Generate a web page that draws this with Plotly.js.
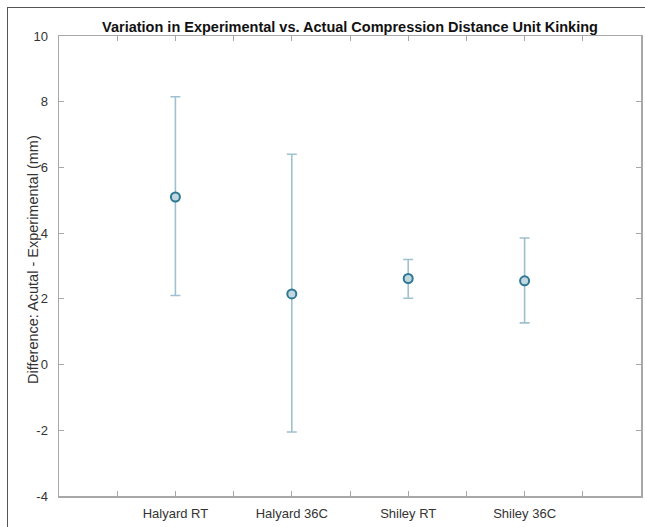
<!DOCTYPE html>
<html>
<head>
<meta charset="utf-8">
<script src="https://cdn.plot.ly/plotly-3.0.1.min.js"></script>
<style>
  html, body { margin: 0; padding: 0; background: #fff; }
  #wrap { position: relative; width: 645px; height: 527px; }
  #chart { width: 645px; height: 527px; }
  #frame { position: absolute; left: 7px; top: 7px; right: 0; bottom: 0;
           border-left: 1.5px solid #555; border-top: 1.5px solid #555; pointer-events: none; }
</style>
</head>
<body>
<div id="wrap">
  <div id="chart"></div>
  <div id="frame"></div>
</div>
<script>
// Data
const categories = ["Halyard RT", "Halyard 36C", "Shiley RT", "Shiley 36C"];
const positions = [1, 2, 3, 4];
const meanDiff = [5.1, 2.15, 2.62, 2.55];
const upperVal = [8.15, 6.4, 3.2, 3.85];
const lowerVal = [2.1, -2.05, 2.02, 1.27];
const xTickVals = [0.5, 1, 1.5, 2, 2.5, 3, 3.5, 4, 4.5];
const yTickVals = [-4, -2, 0, 2, 4, 6, 8, 10];
const yLabel = "Difference: Acutal - Experimental (mm)";
const chartTitle = "Variation in Experimental vs. Actual Compression Distance Unit Kinking";

const errPlus = meanDiff.map((m, i) => upperVal[i] - m);
const errMinus = meanDiff.map((m, i) => m - lowerVal[i]);
const xTickText = xTickVals.map(v => {
  const idx = positions.indexOf(v);
  return idx >= 0 ? categories[idx] : "";
});

const FONT = "Liberation Sans, Arial, sans-serif";

const trace = {
  type: "scatter",
  mode: "markers",
  x: positions,
  y: meanDiff,
  marker: {
    symbol: "circle",
    size: 9,
    color: "#c2d8e1",
    line: { color: "#2f7893", width: 2 }
  },
  error_y: {
    type: "data",
    symmetric: false,
    array: errPlus,
    arrayminus: errMinus,
    color: "#9fc0ce",
    thickness: 1.6,
    width: 5
  },
  hoverinfo: "skip"
};

const axisCommon = {
  showgrid: false,
  zeroline: false,
  showline: true,
  linecolor: "#a8a8a8",
  linewidth: 1.5,
  mirror: "ticks",
  ticks: "inside",
  ticklen: 5,
  tickwidth: 1,
  tickcolor: "#a8a8a8",
  tickfont: { family: FONT, size: 13, color: "#333" }
};

const layout = {
  width: 645,
  height: 527,
  margin: { l: 59, r: 4, t: 36, b: 31 },
  paper_bgcolor: "#ffffff",
  plot_bgcolor: "#ffffff",
  showlegend: false,
  title: {
    text: "<b>" + chartTitle + "</b>",
    font: { family: FONT, size: 14.5, color: "#111" },
    x: 0.5, xref: "paper", xanchor: "center",
    y: 1, yref: "paper", yanchor: "bottom", pad: { b: 4 }
  },
  xaxis: Object.assign({}, axisCommon, {
    range: [0, 5],
    tickmode: "array",
    tickvals: xTickVals,
    ticktext: xTickText,
    ticklabelstandoff: 5
  }),
  yaxis: Object.assign({}, axisCommon, {
    range: [-4, 10],
    tickmode: "array",
    tickvals: yTickVals,
    ticktext: yTickVals.map(String),
    ticklabelstandoff: 7
  }),
  annotations: [{
    text: yLabel,
    xref: "paper", yref: "paper",
    x: 0, y: 0.5,
    xanchor: "center", yanchor: "middle",
    xshift: -26, yshift: 6,
    textangle: -90,
    showarrow: false,
    font: { family: FONT, size: 14.5, color: "#333" }
  }]
};

Plotly.newPlot("chart", [trace], layout, { staticPlot: true, displayModeBar: false });
</script>
</body>
</html>
